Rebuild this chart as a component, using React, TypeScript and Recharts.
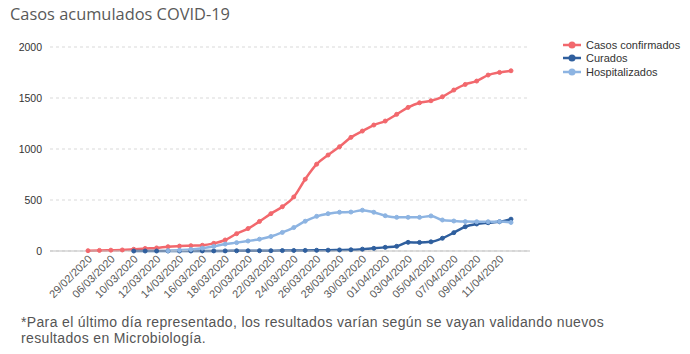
import React from "react";
import { LineChart, Line, XAxis, YAxis, CartesianGrid } from "recharts";

const dates = [
  "29/02/2020", "04/03/2020", "06/03/2020", "08/03/2020", "10/03/2020", "11/03/2020",
  "12/03/2020", "13/03/2020", "14/03/2020", "15/03/2020", "16/03/2020", "17/03/2020",
  "18/03/2020", "19/03/2020", "20/03/2020", "21/03/2020", "22/03/2020", "23/03/2020",
  "24/03/2020", "25/03/2020", "26/03/2020", "27/03/2020", "28/03/2020", "29/03/2020",
  "30/03/2020", "31/03/2020", "01/04/2020", "02/04/2020", "03/04/2020", "04/04/2020",
  "05/04/2020", "06/04/2020", "07/04/2020", "08/04/2020", "09/04/2020", "10/04/2020",
  "11/04/2020", "12/04/2020",
];

const casosConfirmados = [
  3, 6, 8, 10, 17, 25, 30, 42, 48, 52, 56, 75, 108, 170, 220, 290, 366, 434, 530, 704,
  851, 941, 1022, 1114, 1176, 1235, 1274, 1340, 1408, 1453, 1473, 1512, 1578, 1633, 1666,
  1725, 1751, 1767,
];

const curados = [
  null, null, null, null, 0, 0, 0, 0, 0, 0, 1, 1, 1, 2, 2, 3, 3, 4, 5, 6, 7, 8, 10, 12,
  18, 26, 36, 46, 85, 84, 90, 125, 180, 238, 265, 277, 287, 312,
];

const hospitalizados = [
  null, null, null, null, null, null, null, 3, 8, 15, 28, 45, 68, 82, 98, 116, 142, 182,
  230, 292, 340, 366, 380, 382, 400, 380, 346, 330, 330, 330, 344, 304, 294, 288, 287,
  287, 288, 280,
];

const yTicks = [0, 500, 1000, 1500, 2000];

const seriesNames = ["Casos confirmados", "Curados", "Hospitalizados"];
const seriesKeys = ["casos", "curados", "hosp"];
const seriesColors = ["#F2686D", "#2F5F9E", "#8DB4E2"];

const data = dates.map((d, i) => ({
  date: d,
  casos: casosConfirmados[i],
  curados: curados[i],
  hosp: hospitalizados[i],
}));

const XTick = (props: any) => {
  const { x, y, payload } = props;
  return (
    <g transform={`translate(${x + 2},${y - 2})`}>
      <text
        x={0}
        y={0}
        dy="0.35em"
        textAnchor="end"
        transform="rotate(-45)"
        fill="#595959"
        fontSize={11}
        fontFamily="Liberation Sans, Arial, sans-serif"
      >
        {payload.value}
      </text>
    </g>
  );
};

export default function App() {
  return (
    <div
      style={{
        position: "absolute",
        left: 0,
        top: 0,
        width: 690,
        height: 354,
        background: "#fff",
        fontFamily: "Liberation Sans, Arial, sans-serif",
      }}
    >
      <div
        style={{
          position: "absolute",
          left: 10,
          top: 3,
          fontFamily: "Open Sans, sans-serif",
          fontSize: 16.4,
          lineHeight: "22px",
          color: "#595959",
          whiteSpace: "nowrap",
        }}
      >
        Casos acumulados COVID-19
      </div>
      <LineChart
        width={690}
        height={354}
        data={data}
        margin={{ top: 47, right: 160, left: 10, bottom: 43 }}
      >
        <CartesianGrid vertical={false} stroke="#d9d9d9" strokeDasharray="3 3" />
        <XAxis
          dataKey="date"
          scale="point"
          padding={{ left: 38, right: 19 }}
          interval={1}
          height={60}
          tickLine={false}
          axisLine={{ stroke: "#bfbfbf" }}
          tick={<XTick />}
        />
        <YAxis
          width={40}
          domain={[0, 2000]}
          ticks={yTicks}
          axisLine={false}
          tickLine={false}
          tick={{ fontSize: 10.5, fill: "#333", fontFamily: "Liberation Sans, Arial, sans-serif" }}
        />
        {seriesKeys.map((k, i) => (
          <Line
            key={k}
            dataKey={k}
            name={seriesNames[i]}
            type="monotone"
            stroke={seriesColors[i]}
            strokeWidth={2.5}
            dot={{ r: 2, fill: seriesColors[i], stroke: seriesColors[i], strokeWidth: 1 }}
            isAnimationActive={false}
            connectNulls={false}
          />
        ))}
      </LineChart>
      <div style={{ position: "absolute", left: 562, top: 38 }}>
        {seriesNames.map((n, i) => (
          <div
            key={n}
            style={{ display: "flex", alignItems: "center", height: 13.5, fontSize: 11, color: "#333" }}
          >
            <svg width={22} height={10} style={{ marginRight: 2 }}>
              <line x1={1} y1={5} x2={19} y2={5} stroke={seriesColors[i]} strokeWidth={2.5} />
              <circle cx={10} cy={5} r={3.5} fill={seriesColors[i]} />
            </svg>
            <span>{n}</span>
          </div>
        ))}
      </div>
      <div
        style={{
          position: "absolute",
          left: 21,
          top: 314,
          width: 660,
          fontSize: 14,
          lineHeight: "16px",
          letterSpacing: 0.35,
          color: "#555",
          whiteSpace: "nowrap",
        }}
      >
        *Para el último día representado, los resultados varían según se vayan validando nuevos
        <br />
        resultados en Microbiología.
      </div>
    </div>
  );
}
